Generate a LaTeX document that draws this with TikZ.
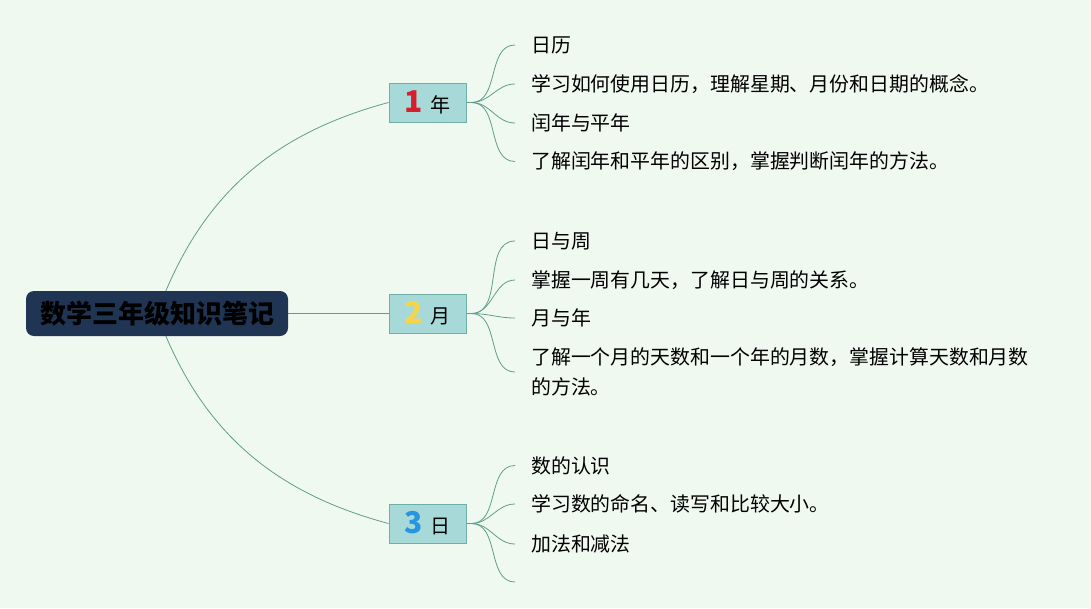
\documentclass[tikz,border=0pt]{standalone}
\usepackage{fontspec}
\setmainfont{Noto Sans CJK SC}
\usepackage{tikz}
\usetikzlibrary{positioning,backgrounds}
\definecolor{mmbg}{RGB}{240,249,240}
\definecolor{mmnavy}{RGB}{31,53,83}
\definecolor{mmteal}{RGB}{168,217,217}
\definecolor{mmtealdark}{RGB}{112,175,166}
\definecolor{mmline}{RGB}{96,157,140}
\definecolor{mmred}{RGB}{214,30,46}
\definecolor{mmyellow}{RGB}{246,214,72}
\definecolor{mmblue}{RGB}{40,150,222}
\tikzstyle{rootbox} = [rectangle, rounded corners=8pt, minimum width=262pt, minimum height=45pt, inner sep=0pt, fill=mmnavy, text=black, font=\fontsize{26}{26}\selectfont\bfseries]
\tikzstyle{yearbox} = [rectangle, minimum width=77pt, minimum height=39pt, inner sep=0pt, draw=mmtealdark, fill=mmteal, line width=1pt, font=\fontsize{20}{20}\selectfont]
\tikzstyle{leaftext} = [anchor=west, inner xsep=16pt, inner ysep=0pt, align=left, font=\fontsize{19.9}{30}\selectfont]
\tikzstyle{link} = [draw=mmline, line width=0.8pt]
\newcommand{\yearnum}[2]{{\fontsize{30}{30}\selectfont\bfseries\color{#1}#2}\hspace{7pt}}

\begin{document}
\begin{tikzpicture}[x=1pt,y=1pt]
\useasboundingbox (0,0) rectangle (1091,-608);

% Root and branches
\node[rootbox] (root) at (157,-313.5) {数学三年级知识笔记};
\node[yearbox] (b1) at (427.5,-102.5) {\yearnum{mmred}{1}年};
\node[yearbox] (b2) at (427.5,-313.5) {\yearnum{mmyellow}{2}月};
\node[yearbox] (b3) at (427.5,-523.5) {\yearnum{mmblue}{3}日};

% Leaves of 1
\node[leaftext] (l11) at (515,-45) {日历};
\node[leaftext] (l12) at (515,-84) {学习如何使用日历，理解星期、月份和日期的概念。};
\node[leaftext] (l13) at (515,-123) {闰年与平年};
\node[leaftext] (l14) at (515,-161.5) {了解闰年和平年的区别，掌握判断闰年的方法。};

% Leaves of 2
\node[leaftext] (l21) at (515,-241) {日与周};
\node[leaftext] (l22) at (515,-280) {掌握一周有几天，了解日与周的关系。};
\node[leaftext] (l23) at (515,-318) {月与年};
\node[leaftext] (l24) at (515,-372) {了解一个月的天数和一个年的月数，掌握计算天数和月数\\的方法。};

% Leaves of 3
\node[leaftext] (l31) at (515,-465.5) {数的认识};
\node[leaftext] (l32) at (515,-504) {学习数的命名、读写和比较大小。};
\node[leaftext] (l33) at (515,-544) {加法和减法};
\coordinate (l34) at (515,-582);

\begin{scope}[on background layer]
\fill[mmbg] (0,0) rectangle (1091,-608);
% Root links
\draw[link] (root.center) to[out=70,in=195] (b1.west);
\draw[link] (root.center) -- (b2.west);
\draw[link] (root.center) to[out=-70,in=165] (b3.west);
% Branch links
\foreach \b/\l in {b1/l11,b1/l12,b1/l13,b1/l14,b2/l21,b2/l22,b2/l23,b2/l24,b3/l31,b3/l32,b3/l33}
  \draw[link] (\b.east) -- ++(5,0) to[out=0,in=180] (\l.west);
\draw[link] (b3.east) -- ++(5,0) to[out=0,in=180] (l34);
\end{scope}
\end{tikzpicture}
\end{document}
